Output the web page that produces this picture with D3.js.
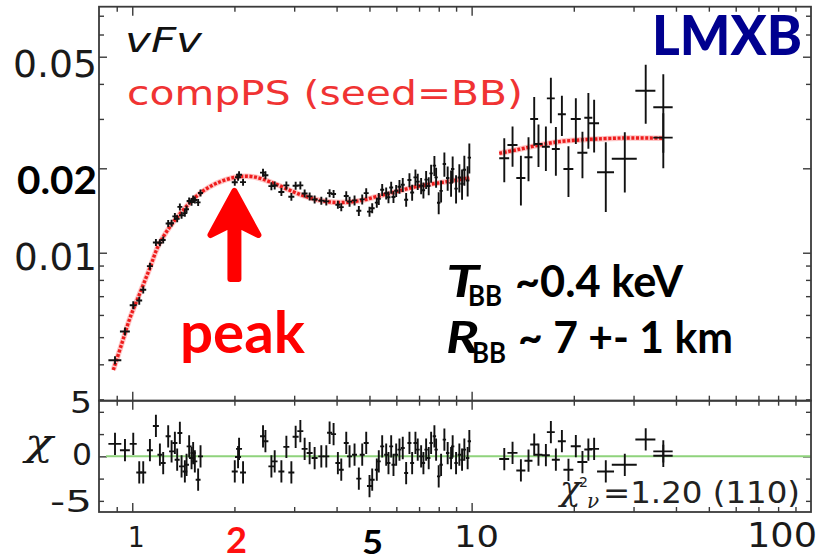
<!DOCTYPE html>
<html><head><meta charset="utf-8">
<script src="https://cdn.jsdelivr.net/npm/d3@7"></script>
<style>body{margin:0;background:#fff}svg{display:block}</style>
</head><body><svg id="c" width="825" height="560"></svg>
<script>
// ---------------- data ----------------
const energy = [0.8895,0.9518,1.0068,1.0486,1.0773,1.1274,1.1741,1.2063,1.2336,1.2761,1.3058,1.3353,1.3563,1.3813,1.3973,1.4289,1.4454,1.4711,1.4952,1.5115,1.529,1.5636,1.5892,2.0049,2.0502,2.0641,2.1207,2.4284,2.4682,2.5704,2.6285,2.7506,2.8453,2.9433,3.0302,3.1283,3.2208,3.3318,3.4465,3.6065,3.7306,3.8149,3.9196,4.0354,4.1293,4.2715,4.368,4.5186,4.652,4.7603,4.8909,5.0014,5.0937,5.2551,5.3267,5.4507,5.6006,5.6885,5.7935,5.8846,5.9931,6.1286,6.2672,6.4132,6.558,6.6791,6.83,6.9374,7.0988,7.2104,7.3434,7.4739,7.5965,7.7682,7.8581,7.9978,8.1283,8.312,8.5,8.6979,8.7926,8.9976,9.2009,9.3706,9.518,9.7329,9.8456,
  12.48,13.20,13.97,14.71,15.29,15.74,16.55,17.12,17.71,18.45,19.29,20.28,21.21,22.08,22.96,24.85,28.27,32.58,36.71,36.71];
const energyErr = [0.039,0.032,0.024,0.021,0.022,0.023,0.024,0.020,0.021,0.022,0.022,0.023,0.023,0.023,0.024,0.024,0.024,0.025,0.025,0.026,0.026,0.026,0.027,0.041,0.042,0.042,0.043,0.049,0.050,0.052,0.053,0.056,0.058,0.060,0.062,0.064,0.065,0.068,0.070,0.073,0.076,0.065,0.066,0.068,0.070,0.072,0.074,0.076,0.079,0.081,0.083,0.085,0.086,0.071,0.072,0.074,0.076,0.077,0.078,0.080,0.081,0.083,0.085,0.087,0.089,0.090,0.092,0.094,0.096,0.083,0.085,0.086,0.087,0.089,0.090,0.092,0.094,0.096,0.098,0.100,0.101,0.104,0.106,0.108,0.110,0.112,0.113,
  0.42,0.45,0.43,0.40,0.41,0.43,0.45,0.46,0.48,0.50,0.65,0.69,0.72,0.60,0.78,1.43,2.39,2.21,2.41,2.41];
const flux = [0.004137,0.005236,0.006494,0.006751,0.007374,0.00896,0.010874,0.010856,0.011099,0.01271,0.012742,0.013474,0.01321,0.014568,0.013605,0.013843,0.014286,0.015298,0.01515,0.015546,0.015425,0.015118,0.016339,0.01783,0.018592,0.018977,0.017858,0.019298,0.018898,0.01728,0.017368,0.016465,0.017378,0.015826,0.017335,0.017378,0.016272,0.015877,0.015475,0.015337,0.015249,0.016313,0.016205,0.014832,0.014545,0.015928,0.015213,0.015371,0.01411,0.015503,0.016313,0.014013,0.014416,0.015093,0.015575,0.016762,0.016286,0.015772,0.017075,0.015805,0.016627,0.017197,0.017469,0.015453,0.018163,0.016395,0.01857,0.017928,0.017316,0.0167,0.018222,0.017304,0.019187,0.020446,0.01857,0.015077,0.016612,0.020716,0.01848,0.01774,0.019888,0.01693,0.01854,0.017626,0.019755,0.018096,0.021838,
  0.02171,0.02422,0.01847,0.02189,0.02998,0.02442,0.02388,0.03552,0.02343,0.03117,0.01989,0.02998,0.02273,0.0303,0.02894,0.01936,0.02164,0.03781,0.03301,0.02572];
const fluxErr = [0.000136,0.000172,0.000213,0.000221,0.000212,0.000257,0.000312,0.000312,0.000319,0.000365,0.000366,0.000387,0.000379,0.000418,0.00039,0.000397,0.00041,0.000439,0.000435,0.000446,0.000443,0.000434,0.000469,0.000512,0.000534,0.000545,0.000513,0.000633,0.00062,0.000567,0.00057,0.00054,0.00057,0.000519,0.000569,0.00057,0.000534,0.000521,0.000508,0.000503,0.0005,0.000535,0.000532,0.000486,0.000477,0.000653,0.000624,0.00063,0.000579,0.000636,0.000669,0.000575,0.000591,0.000619,0.000763,0.000821,0.000798,0.000773,0.000837,0.000774,0.000815,0.00098,0.000996,0.000881,0.001035,0.001082,0.001226,0.001183,0.001143,0.001102,0.001348,0.00128,0.00142,0.001677,0.001523,0.001357,0.001495,0.002051,0.00183,0.001898,0.002128,0.001947,0.002132,0.002168,0.00243,0.002226,0.002686,
  0.00387,0.00398,0.00372,0.0039,0.00591,0.00421,0.00431,0.00656,0.00462,0.00512,0.00408,0.00554,0.00429,0.00684,0.00618,0.0054,0.00524,0.009,0.0103,0.0057];
const chi = [1.12,0.55,1.12,-1.45,-1.45,0.55,2.73,0.15,-0.6,1.8,0.45,1.2,-0.3,2.1,-0.9,-1.36,-0.76,0.9,-0.15,0.3,-0.45,-2.1,0,-1.36,-0.06,0.67,-1.45,1.8,1.36,-0.9,-0.45,-1.36,0.85,-1.45,1.76,2.27,0.67,0.3,-0.15,0,0,2.12,2.0,-0.6,-1.2,1.2,0,0.15,-2.0,0.15,1.2,-2.67,-2.1,-1.2,-0.45,0.9,0.15,-0.6,0.9,-0.76,0.15,0.6,0.75,-1.5,1.2,-0.6,1.2,0.6,0,-0.6,0.6,-0.15,1.2,1.8,0.6,-1.8,-0.76,1.5,0.3,-0.15,0.9,-0.6,0.15,-0.3,0.6,-0.15,1.36,
  -0.24,0.31,-1.27,-0.39,1.06,0.15,0.1,2.18,-0.3,1.36,-1.21,0.91,-0.51,0.61,0.67,-1.36,-0.76,1.52,0.45,0.05];
const chiErr = 1; // delchi error bars are unit by construction

const modelLowE = [0.8793,0.9307,0.9845,1.0535,1.1269,1.1925,1.2895,1.4125,1.5816,1.771,2.028,2.269,2.598,2.976,3.258,3.646,4.082,4.675,5.233,5.994,6.864,7.858,8.794,9.845];
const modelLowF = [0.003817,0.004726,0.00585,0.007183,0.008819,0.01057,0.01235,0.0142,0.01628,0.01768,0.01862,0.01867,0.01773,0.01651,0.01584,0.01529,0.0151,0.01533,0.01584,0.01651,0.0172,0.01768,0.01806,0.01848];
const modelHighE = [12.06,13.81,15.81,18.10,20.73,23.22,28.45,36.63];
const modelHighF = [0.02262,0.02338,0.02421,0.02489,0.02523,0.02544,0.02565,0.02561];

const xTickValues = [1,2,5,10,100];
const xTickLabels = ["1","2","5","10","100"];
const yTickValues = [0.05,0.02,0.01];
const yTickLabels = ["0.05","0.02","0.01"];
const chiTickValues = [5,0,-5];
const chiTickLabels = ["5","0","-5"];

// ---------------- layout ----------------
const L = 99, R = 811, T = 6.7, MID = 400.7, B = 512;
const svg = d3.select("#c");
const x = d3.scaleLog().domain([0.798,100]).range([L,R]);
const yU = d3.scaleLog().domain([0.002967,0.07539]).range([MID,T]);
const yL = d3.scaleLinear().domain([-5,5]).range([B,MID]);

const defs = svg.append("defs");
defs.append("clipPath").attr("id","cu").append("rect").attr("x",L).attr("y",T).attr("width",R-L).attr("height",MID-T);
defs.append("clipPath").attr("id","cl").append("rect").attr("x",L).attr("y",MID).attr("width",R-L).attr("height",B-MID);

// ---------------- ticks through d3 axes ----------------
const AX = "#3a3a3a";
function tickSet(g, gen, vals, size){
  g.call(gen.tickValues(vals).tickSize(-size).tickFormat(""));
  g.select(".domain").remove();
  g.selectAll("line").attr("stroke",AX).attr("stroke-width",1.4);
}
const xMinor = [0.9,2,3,4,5,6,7,8,9,20,30,40,50,60,70,80,90];
const xMajor = [1,10];
const yUMinor = [0.003,0.004,0.005,0.006,0.007,0.008,0.009,0.03,0.04,0.06,0.07];
const yUMajor = [0.01,0.02,0.05];
const yLMinor = [-4,-2,2,4];
const yLMajor = [0];

[[T,d3.axisTop],[MID,d3.axisBottom],[MID,d3.axisTop],[B,d3.axisBottom]].forEach(([yy,gen])=>{
  tickSet(svg.append("g").attr("transform",`translate(0,${yy})`), gen(x), xMinor, 5);
  tickSet(svg.append("g").attr("transform",`translate(0,${yy})`), gen(x), xMajor, 9);
});
[[L,d3.axisLeft],[R,d3.axisRight]].forEach(([xx,gen])=>{
  tickSet(svg.append("g").attr("transform",`translate(${xx},0)`), gen(yU), yUMinor, 5);
  tickSet(svg.append("g").attr("transform",`translate(${xx},0)`), gen(yU), yUMajor, 8);
  tickSet(svg.append("g").attr("transform",`translate(${xx},0)`), gen(yL), yLMinor, 5);
  tickSet(svg.append("g").attr("transform",`translate(${xx},0)`), gen(yL), yLMajor, 8);
});

// ---------------- zero line ----------------
svg.append("line").attr("x1",L+7).attr("x2",R).attr("y1",yL(0)).attr("y2",yL(0))
  .attr("stroke","#8fd37c").attr("stroke-width",2);

// ---------------- model ----------------
const gm = svg.append("g").attr("clip-path","url(#cu)");
const line = d3.line().x(d=>x(d[0])).y(d=>yU(d[1])).curve(d3.curveCatmullRom);
[[modelLowE,modelLowF],[modelHighE,modelHighF]].forEach(([E,F])=>{
  const pts = E.map((e,i)=>[e,F[i]]);
  gm.append("path").attr("d",line(pts)).attr("fill","none").attr("stroke","#ff5a5a")
    .attr("stroke-opacity",0.35).attr("stroke-width",5.5);
  gm.append("path").attr("d",line(pts)).attr("fill","none").attr("stroke","#ee1c1c")
    .attr("stroke-width",3.4).attr("stroke-dasharray","3 1.6");
});

// ---------------- data crosses ----------------
const idx = d3.range(energy.length);
const gu = svg.append("g").attr("clip-path","url(#cu)").attr("stroke","#111").attr("stroke-width",1.9);
idx.forEach(i=>{
  gu.append("line").attr("x1",x(energy[i]-energyErr[i])).attr("x2",x(energy[i]+energyErr[i]))
    .attr("y1",yU(flux[i])).attr("y2",yU(flux[i]));
  gu.append("line").attr("x1",x(energy[i])).attr("x2",x(energy[i]))
    .attr("y1",yU(flux[i]-fluxErr[i])).attr("y2",yU(flux[i]+fluxErr[i]));
});
const gl = svg.append("g").attr("clip-path","url(#cl)").attr("stroke","#111").attr("stroke-width",1.9);
idx.forEach(i=>{
  gl.append("line").attr("x1",x(energy[i]-energyErr[i])).attr("x2",x(energy[i]+energyErr[i]))
    .attr("y1",yL(chi[i])).attr("y2",yL(chi[i]));
  gl.append("line").attr("x1",x(energy[i])).attr("x2",x(energy[i]))
    .attr("y1",yL(chi[i]-chiErr)).attr("y2",yL(chi[i]+chiErr));
});

// ---------------- frames ----------------
const fr = svg.append("g").attr("fill","none").attr("stroke",AX).attr("stroke-width",1.8);
fr.append("rect").attr("x",L).attr("y",T).attr("width",R-L).attr("height",MID-T);
fr.append("rect").attr("x",L).attr("y",MID).attr("width",R-L).attr("height",B-MID);

// ---------------- tick labels ----------------
function txt(s, px, py, o){
  const t = svg.append("text").attr("x",px).attr("y",py).text(s)
    .attr("font-family",o.font||"DejaVu Sans").attr("font-size",o.size)
    .attr("fill",o.fill||"#111").attr("text-anchor",o.anchor||"start");
  if(o.weight) t.attr("font-weight",o.weight);
  if(o.style) t.attr("font-style",o.style);
  if(o.len) t.attr("textLength",o.len).attr("lengthAdjust","spacingAndGlyphs");
  return t;
}
const yLabStyle = [
  {dy:20, size:37, len:84},
  {dy:26, size:38, len:80, font:"Lato", weight:"bold", fill:"#000"},
  {dy:17.5, size:37, len:83}
];
yTickValues.forEach((v,i)=>{
  const s = yLabStyle[i];
  txt(yTickLabels[i], 97, yU(v)+s.dy, Object.assign({anchor:"end", fill:"#1a1a1a"}, s));
});
const chiLabStyle = [{dy:12.5,len:22},{dy:8.5,len:20},{dy:0,len:42}];
chiTickValues.forEach((v,i)=>{
  const s = chiLabStyle[i];
  txt(chiTickLabels[i], 92, yL(v)+s.dy, {anchor:"end", size:30, len:s.len, fill:"#1a1a1a"});
});
const xLabStyle = [
  {dx:4, y:547, size:28, len:17},
  {dx:2, y:553, size:36, font:"Lato", weight:"bold", fill:"#ff1010", len:21},
  {dx:3, y:554, size:33, font:"Lato", weight:"bold", fill:"#000", len:21},
  {dx:5, y:547, size:31, len:45},
  {dx:-29, y:547, size:33, len:70}
];
xTickValues.forEach((v,i)=>{
  const s = xLabStyle[i];
  txt(xTickLabels[i], x(v)+s.dx, s.y, Object.assign({anchor:"middle", fill:"#1a1a1a"}, s));
});
// residual axis label
txt("χ", 25, 455, {font:"DejaVu Serif", style:"italic", size:38, len:28, fill:"#1a1a1a"});

// ---------------- annotations ----------------
txt("vFv", 125, 52, {style:"italic", size:33, len:77, fill:"#111"});
txt("compPS (seed=BB)", 127, 105, {size:33, len:396, fill:"#f03333"});
txt("LMXB", 652, 55, {font:"Lato", weight:"900", size:55, len:150, fill:"#00008f"});

// arrow pointing at the 2 keV peak
const ax = x(2);
const arrowPts = [[0,-2],[24,42],[4,32],[4,86],[-4,86],[-4,32],[-24,42]];
const ay = 193;
svg.append("path").attr("d", d3.line()(arrowPts.map(p=>[ax+p[0], ay+p[1]]))+"Z")
  .attr("fill","#ff0000").attr("stroke","#ff0000").attr("stroke-width",6)
  .attr("stroke-linejoin","round");
txt("peak", 180, 353, {font:"Lato", weight:"bold", size:57, len:125, fill:"#ff0000"});

txt("T", 446, 297, {font:"Lato", weight:"bold", style:"italic", size:44, len:33, fill:"#000"});
txt("BB", 468, 306, {font:"Lato", weight:"bold", size:28, len:34, fill:"#000"});
txt("~0.4 keV", 515, 297, {font:"Lato", weight:"bold", size:44, len:168, fill:"#000"});
txt("R", 446, 353, {font:"Lato", weight:"bold", style:"italic", size:44, len:33, fill:"#000"});
txt("BB", 472, 363, {font:"Lato", weight:"bold", size:28, len:34, fill:"#000"});
txt("~ 7 +- 1 km", 518, 353, {font:"Lato", weight:"bold", size:44, len:215, fill:"#000"});

// reduced chi-square (one text element with sub/superscripts)
const chiT = svg.append("text").attr("fill","#222").attr("font-family","DejaVu Sans");
chiT.append("tspan").attr("x",560).attr("y",500).attr("font-family","DejaVu Serif")
  .attr("font-style","italic").attr("font-size",34).text("χ");
chiT.append("tspan").attr("x",579).attr("y",487).attr("font-size",14).text("2");
chiT.append("tspan").attr("x",587).attr("y",508).attr("font-family","DejaVu Serif")
  .attr("font-style","italic").attr("font-size",20).text("ν");
chiT.append("tspan").attr("x",603).attr("y",503).attr("font-size",31)
  .attr("textLength",197).attr("lengthAdjust","spacingAndGlyphs").text("=1.20 (110)");
</script>
</body></html>
